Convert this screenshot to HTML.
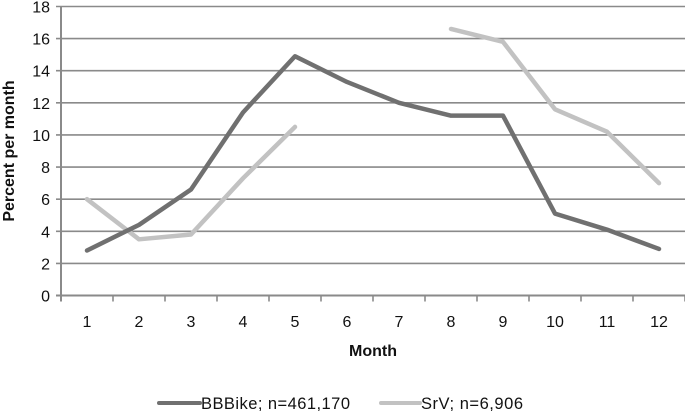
<!DOCTYPE html>
<html><head><meta charset="utf-8"><style>
html,body{margin:0;padding:0;background:#fff;}
svg text{font-family:"Liberation Sans",sans-serif;fill:#111;}
</style></head><body>
<svg id="chart" width="685" height="411" xmlns="http://www.w3.org/2000/svg">
<g id="grid"></g>
<g id="yticks"></g>
<g id="xticks"></g>
<g id="series"></g>
<text transform="translate(14,151) rotate(-90)" text-anchor="middle" font-size="16" font-weight="bold">Percent per month</text>
<text x="373" y="356" text-anchor="middle" font-size="16" font-weight="bold">Month</text>
<g>
<line x1="159" y1="403" x2="200" y2="403" stroke="#707070" stroke-width="4" stroke-linecap="round"/>
<text x="201" y="409" font-size="16.5" textLength="149">BBBike; n=461,170</text>
<line x1="381" y1="403" x2="420" y2="403" stroke="#c2c2c2" stroke-width="4" stroke-linecap="round"/>
<text x="421" y="409" font-size="16.5" textLength="102">SrV; n=6,906</text>
</g>
</svg>
<script>
const months = ["1","2","3","4","5","6","7","8","9","10","11","12"];
const bbbike = [2.8,4.4,6.6,11.4,14.9,13.3,12.0,11.2,11.2,5.1,4.1,2.9];
const srv = [6.0,3.5,3.8,7.3,10.5,null,null,16.6,15.8,11.6,10.2,7.0];
const yTicks = [0,2,4,6,8,10,12,14,16,18];

const NS="http://www.w3.org/2000/svg";
const x0=61, catW=52, y0=295.5, yTop=6.5, yMax=18;
function xPos(i){return x0+catW*(i+0.5);}
function yPos(v){return y0-(v/yMax)*(y0-yTop);}
function mk(tag,attrs,parent){const e=document.createElementNS(NS,tag);for(const k in attrs)e.setAttribute(k,attrs[k]);parent.appendChild(e);return e;}

const grid=document.getElementById('grid'), yt=document.getElementById('yticks'), xt=document.getElementById('xticks'), ser=document.getElementById('series');
yTicks.forEach(v=>{
  const y=yPos(v);
  const l=mk('line',{x1:x0-5,x2:685,y1:y,y2:y,stroke:'#8a8a8a','stroke-width':v===0?2:1.6},grid);
  
  
  const t=mk('text',{x:x0-11,y:y+6,'text-anchor':'end','font-size':16},yt);
  t.textContent=v;
  
  
});
const ax=mk('line',{x1:x0,x2:x0,y1:yTop,y2:y0+6,stroke:'#8a8a8a','stroke-width':2},grid);


months.forEach((m,i)=>{
  const tx=x0+catW*(i+1);
  const tk=mk('line',{x1:tx,x2:tx,y1:y0,y2:y0+6,stroke:'#8a8a8a','stroke-width':1.6},xt);
  
  
  const t=mk('text',{x:xPos(i),y:327,'text-anchor':'middle','font-size':16},xt);
  t.textContent=m;
  
  
});
function drawSeries(vals,color,name){
  let segs=[],cur=[];
  vals.forEach((v,i)=>{ if(v==null){ if(cur.length)segs.push(cur); cur=[]; } else cur.push(xPos(i)+','+yPos(v)); });
  if(cur.length)segs.push(cur);
  segs.forEach((s,k)=>{
    const p=mk('polyline',{points:s.join(' '),fill:'none',stroke:color,'stroke-width':4.5,'stroke-linejoin':'round','stroke-linecap':'round'},ser);
    
    
  });
}
drawSeries(srv,'#c2c2c2','srv');
drawSeries(bbbike,'#707070','bbbike');
</script>
</body></html>
